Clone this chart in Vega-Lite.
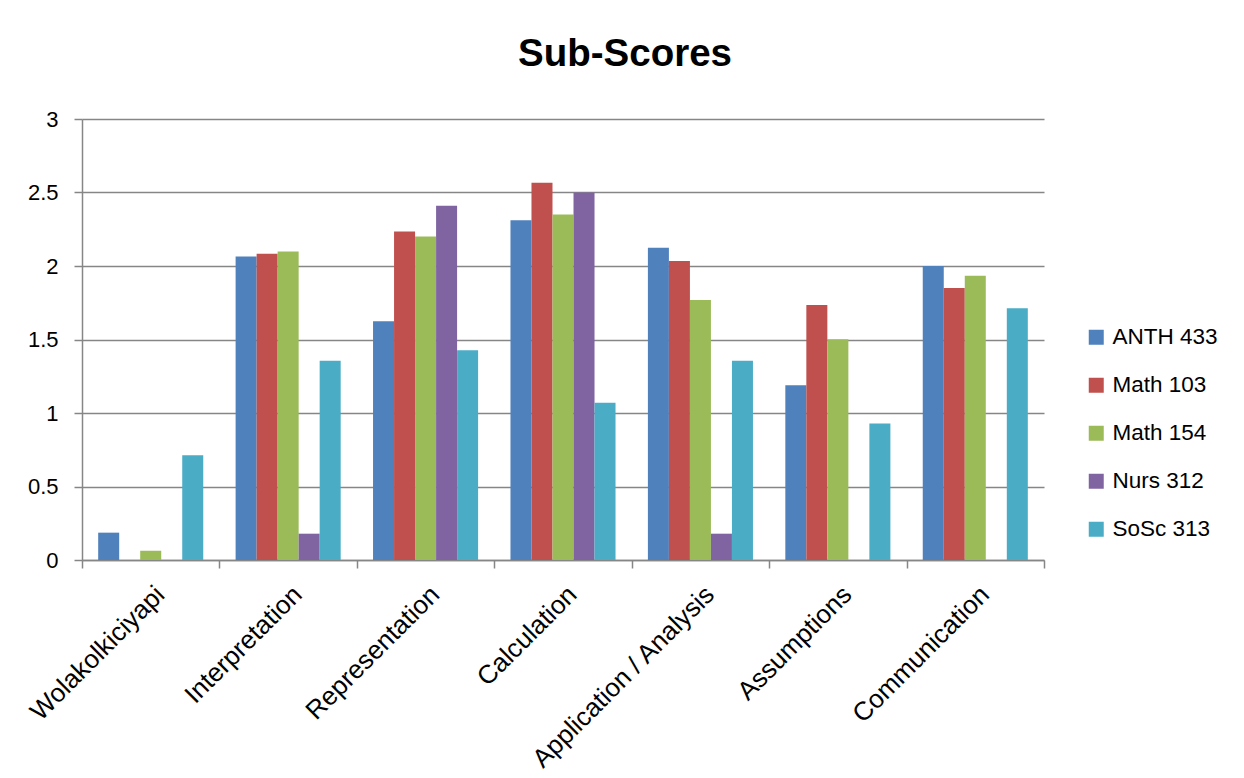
{
  "$schema": "https://vega.github.io/schema/vega-lite/v6.json",
  "width": 962,
  "height": 441,
  "autosize": {"type": "none"},
  "padding": {"left": 82, "top": 119, "right": 200, "bottom": 218},
  "background": "white",
  "config": {"view": {"stroke": null}, "font": "Liberation Sans"},
  "title": {"text": "Sub-Scores", "fontSize": 38.5, "fontWeight": "bold", "font": "Liberation Sans", "color": "black", "offset": 34, "anchor": "middle", "dx": 62},
  "data": {"values": [
    {"category": "Wolakolkiciyapi", "course": "ANTH 433", "score": 0.186},
    {"category": "Wolakolkiciyapi", "course": "Math 103", "score": 0},
    {"category": "Wolakolkiciyapi", "course": "Math 154", "score": 0.063},
    {"category": "Wolakolkiciyapi", "course": "Nurs 312", "score": 0},
    {"category": "Wolakolkiciyapi", "course": "SoSc 313", "score": 0.713},
    {"category": "Interpretation", "course": "ANTH 433", "score": 2.065},
    {"category": "Interpretation", "course": "Math 103", "score": 2.083},
    {"category": "Interpretation", "course": "Math 154", "score": 2.099},
    {"category": "Interpretation", "course": "Nurs 312", "score": 0.179},
    {"category": "Interpretation", "course": "SoSc 313", "score": 1.355},
    {"category": "Representation", "course": "ANTH 433", "score": 1.625},
    {"category": "Representation", "course": "Math 103", "score": 2.235},
    {"category": "Representation", "course": "Math 154", "score": 2.2},
    {"category": "Representation", "course": "Nurs 312", "score": 2.41},
    {"category": "Representation", "course": "SoSc 313", "score": 1.427},
    {"category": "Calculation", "course": "ANTH 433", "score": 2.312},
    {"category": "Calculation", "course": "Math 103", "score": 2.566},
    {"category": "Calculation", "course": "Math 154", "score": 2.35},
    {"category": "Calculation", "course": "Nurs 312", "score": 2.5},
    {"category": "Calculation", "course": "SoSc 313", "score": 1.069},
    {"category": "Application / Analysis", "course": "ANTH 433", "score": 2.124},
    {"category": "Application / Analysis", "course": "Math 103", "score": 2.034},
    {"category": "Application / Analysis", "course": "Math 154", "score": 1.768},
    {"category": "Application / Analysis", "course": "Nurs 312", "score": 0.179},
    {"category": "Application / Analysis", "course": "SoSc 313", "score": 1.355},
    {"category": "Assumptions", "course": "ANTH 433", "score": 1.189},
    {"category": "Assumptions", "course": "Math 103", "score": 1.734},
    {"category": "Assumptions", "course": "Math 154", "score": 1.502},
    {"category": "Assumptions", "course": "Nurs 312", "score": 0},
    {"category": "Assumptions", "course": "SoSc 313", "score": 0.928},
    {"category": "Communication", "course": "ANTH 433", "score": 2.0},
    {"category": "Communication", "course": "Math 103", "score": 1.85},
    {"category": "Communication", "course": "Math 154", "score": 1.933},
    {"category": "Communication", "course": "Nurs 312", "score": 0},
    {"category": "Communication", "course": "SoSc 313", "score": 1.713}
  ]},
  "mark": {"type": "bar"},
  "encoding": {
    "x": {
      "field": "category", "type": "nominal", "sort": null, "title": null,
      "scale": {"paddingInner": 0, "paddingOuter": 0},
      "axis": {
        "labelAngle": -45, "labelFontSize": 26, "labelColor": "black", "labelFont": "Liberation Sans",
        "tickBand": "extent", "tickSize": 8, "tickColor": "#868686", "tickWidth": 1.5,
        "domainColor": "#868686", "domainWidth": 1.5, "labelPadding": 13, "grid": false, "labelLimit": 0
      }
    },
    "xOffset": {"field": "course", "type": "nominal", "sort": ["ANTH 433", "Math 103", "Math 154", "Nurs 312", "SoSc 313"], "scale": {"paddingInner": 0, "paddingOuter": 0.77}},
    "y": {
      "field": "score", "type": "quantitative", "title": null,
      "scale": {"domain": [0, 3], "nice": false},
      "axis": {
        "values": [0, 0.5, 1, 1.5, 2, 2.5, 3], "format": "~g",
        "labelFontSize": 22, "labelColor": "black", "labelFont": "Liberation Sans",
        "gridColor": "#868686", "gridWidth": 1.5, "tickColor": "#868686", "tickSize": 8, "tickWidth": 1.5,
        "domainColor": "#868686", "domainWidth": 1.5, "labelPadding": 16
      }
    },
    "color": {
      "field": "course", "type": "nominal", "title": null,
      "scale": {"domain": ["ANTH 433", "Math 103", "Math 154", "Nurs 312", "SoSc 313"], "range": ["#4F81BD", "#C0504D", "#9BBB59", "#8064A2", "#4BACC6"]},
      "legend": {
        "orient": "none", "legendX": 1003, "legendY": 207,
        "symbolType": "square", "symbolSize": 225, "symbolStrokeWidth": 0,
        "labelFontSize": 22.5, "labelColor": "black", "labelFont": "Liberation Sans",
        "rowPadding": 25, "labelOffset": 5
      }
    }
  }
}
